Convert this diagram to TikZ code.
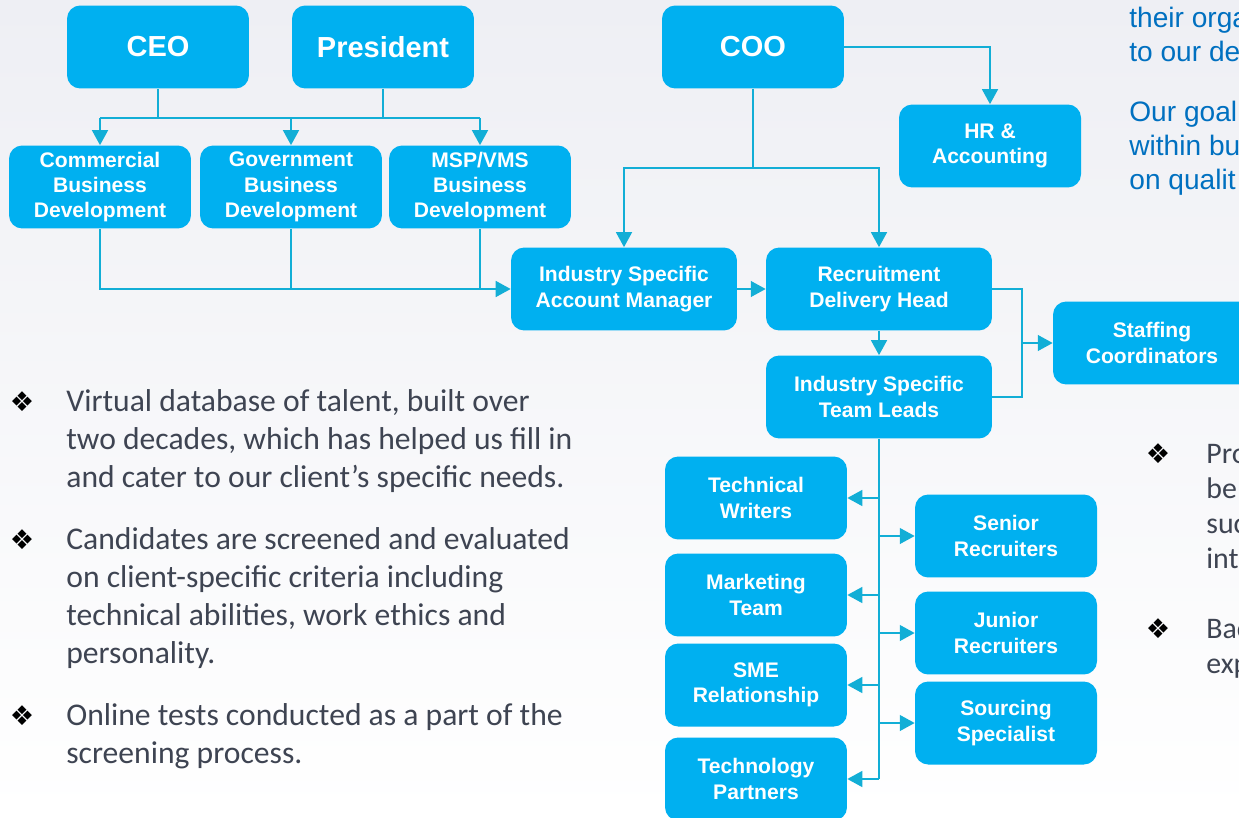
\documentclass[tikz,border=0pt]{standalone}
\usepackage{fontspec}
\setmainfont{Liberation Sans}
\newfontfamily\bulletfont{Carlito}
\newfontfamily\dingfont{DejaVu Sans}
\usepackage{tikz}
\usetikzlibrary{arrows.meta,positioning}
\definecolor{boxblue}{HTML}{00B0F0}
\definecolor{linkblue}{HTML}{12AED6}
\definecolor{bodygrey}{HTML}{3E4452}
\definecolor{headblue}{HTML}{0070C0}
\definecolor{bgtop}{HTML}{EEEFF4}

\begin{document}
\begin{tikzpicture}[x=0.02cm,y=-0.02cm,
  unit/.style={rectangle,rounded corners=7.5pt,fill=boxblue,text=white,align=center,inner sep=0pt,minimum width=3.64cm,minimum height=1.66cm,font=\bfseries\fontsize{12}{14.4}\selectfont},
  chief/.style={unit,font=\bfseries\fontsize{16.5}{19}\selectfont},
  wideunit/.style={unit,minimum width=4.52cm},
  link/.style={draw=linkblue,line width=1.1pt},
  feed/.style={link,-{Triangle[length=8.5pt,width=9pt]}},
  para/.style={anchor=base west,align=left,inner sep=0pt,text=bodygrey,font=\bulletfont\fontsize{18}{21.6}\selectfont},
  aim/.style={anchor=base west,align=left,inner sep=0pt,text=headblue,font=\fontsize{16}{19.6}\selectfont},
  ding/.style={anchor=base,inner sep=0pt,font=\dingfont\fontsize{15.5}{15.5}\selectfont}]
\useasboundingbox (0,0) rectangle (1239,817);
\clip (0,0) rectangle (1239,817);
\fill[top color=bgtop,bottom color=white] (0,0) rectangle (1239,817);

% boxes
\node[chief] (ceo) at (158,47) {CEO};
\node[chief] (pres) at (383,47) {President};
\node[chief] (coo) at (753,47) {COO};
\node[unit] (combd) at (100,187) {Commercial\\Business\\Development};
\node[unit] (govbd) at (291,187) {Government\\Business\\Development};
\node[unit] (mspbd) at (480,187) {MSP/VMS\\Business\\Development};
\node[unit] (hr) at (990,146) {HR \&\\Accounting};
\node[wideunit] (acct) at (624,289) {Industry Specific\\Account Manager};
\node[wideunit] (rdh) at (879,289) {Recruitment\\Delivery Head};
\node[wideunit] (leads) at (879,397) {Industry Specific\\Team Leads};
\node[unit,minimum width=3.96cm] (staff) at (1152,343) {Staffing\\Coordinators};
\node[unit] (techw) at (756,498) {Technical\\Writers};
\node[unit] (mkt) at (756,595) {Marketing\\Team};
\node[unit] (sme) at (756,685) {SME\\Relationship};
\node[unit] (techp) at (756,779) {Technology\\Partners};
\node[unit] (senior) at (1006,536) {Senior\\Recruiters};
\node[unit] (junior) at (1006,633) {Junior\\Recruiters};
\node[unit] (sourcing) at (1006,723) {Sourcing\\Specialist};

% connectors
\coordinate (topbus) at (291,118);
\coordinate (coobus) at (753,168);
\coordinate (fork) at (1022,343);
\draw[link] (ceo) -- (ceo |- topbus);
\draw[link] (pres) -- (pres |- topbus);
\draw[link] (combd |- topbus) -- (mspbd |- topbus);
\foreach \u in {combd,govbd,mspbd} \draw[feed] (\u |- topbus) -- (\u);
\draw[feed] (combd) |- (acct);
\draw[link] (govbd) -- (govbd |- acct);
\draw[link] (mspbd) -- (mspbd |- acct);
\draw[link] (coo) -- (coo |- coobus);
\draw[feed] (coo |- coobus) -| (acct);
\draw[feed] (coo |- coobus) -| (rdh);
\draw[feed] (coo) -| (hr);
\draw[feed] (acct) -- (rdh);
\draw[feed] (rdh) -- (leads);
\draw[link] (rdh) -| (fork);
\draw[link] (leads) -| (fork);
\draw[feed] (fork) -- (staff);
\draw[link] (leads) -- (leads |- techp);
\foreach \u in {techw,mkt,sme,techp,senior,junior,sourcing} \draw[feed] (leads |- \u) -- (\u);

% text (base = baseline of the last line)
\node[aim] (aim1) at (1129,62) {their orga\\to our de};
\node[aim] (aim2) at (1129,190) {Our goal\\within bu\\on qualit};
\node[ding] (d1) at (22,411) {❖};
\node[para] (p1) at (66,487) {Virtual database of talent, built over\\two decades, which has helped us fill in\\and cater to our client’s specific needs.};
\node[ding] (d2) at (22,549) {❖};
\node[para] (p2) at (66,663) {Candidates are screened and evaluated\\on client-specific criteria including\\technical abilities, work ethics and\\personality.};
\node[ding] (d3) at (22,725) {❖};
\node[para] (p3) at (66,763) {Online tests conducted as a part of the\\screening process.};
\node[ding] (d4) at (1158,463) {❖};
\node[para,font=\bulletfont\fontsize{17}{19.8}\selectfont] (p4) at (1206,568) {Pro\\be\\suc\\int};
\node[ding] (d5) at (1158,638) {❖};
\node[para,font=\bulletfont\fontsize{17}{19.8}\selectfont] (p5) at (1206,673) {Bac\\exp};
\end{tikzpicture}
\end{document}
